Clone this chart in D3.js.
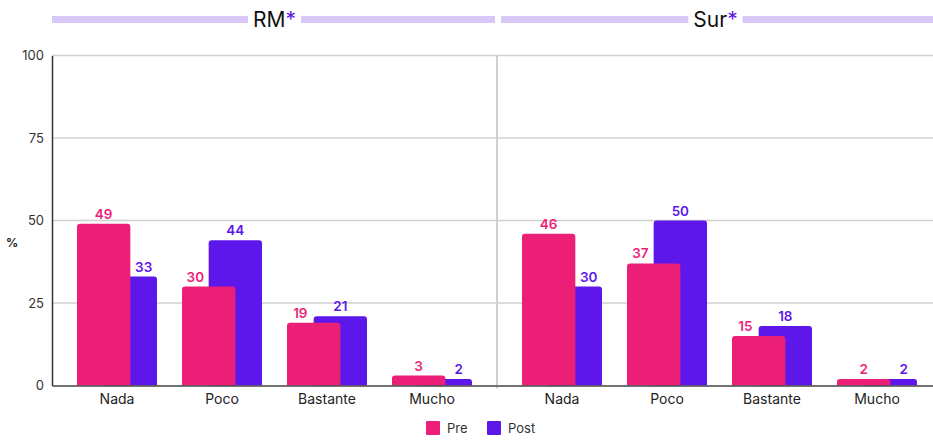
<!DOCTYPE html>
<html><head><meta charset="utf-8">
<script src="https://cdn.jsdelivr.net/npm/d3@7"></script>
<style>body{margin:0;background:#fff}svg{display:block}text{font-family:Inter,"Noto Sans",sans-serif}</style>
</head><body><svg id="c" width="933" height="443"></svg>
<script>
const panels = ["RM", "Sur"];
const categories = ["Nada", "Poco", "Bastante", "Mucho"];
const preRM = [49, 30, 19, 3];
const postRM = [33, 44, 21, 2];
const preSur = [46, 37, 15, 2];
const postSur = [30, 50, 18, 2];
const yTicks = [0, 25, 50, 75, 100];
const seriesNames = ["Pre", "Post"];
const colors = {Pre: "#EC1F77", Post: "#5E17EB"};

const data = {RM: {Pre: preRM, Post: postRM}, Sur: {Pre: preSur, Post: postSur}};
const svg = d3.select("#c");
const left = 52, panelW = 445;
const y = d3.scaleLinear().domain([0, 100]).range([385.5, 55.5]);
const px = d3.scaleBand().domain(panels).range([left, left + 2 * panelW]);

// gridlines
svg.append("g").selectAll("line").data(yTicks.filter(d => d > 0)).join("line")
  .attr("x1", left).attr("x2", left + 2 * panelW)
  .attr("y1", d => y(d)).attr("y2", d => y(d))
  .attr("stroke", "#d0d0d0").attr("stroke-width", 1.5);

// y axis
const yAxis = d3.axisLeft(y).tickValues(yTicks).tickSize(0).tickPadding(8);
const ya = svg.append("g").attr("transform", `translate(${left},0)`).call(yAxis);
ya.select(".domain").attr("stroke", "#333").attr("stroke-width", 1.5);
ya.selectAll("text").attr("font-size", 13).attr("fill", "#333");
svg.append("text").attr("x", 12).attr("y", 247).attr("text-anchor", "middle")
  .attr("font-size", 12).attr("font-weight", 700).attr("fill", "#222").text("%");

// divider
svg.append("line").attr("x1", px("Sur")).attr("x2", px("Sur"))
  .attr("y1", y(100)).attr("y2", y(0) + 3).attr("stroke", "#d0d0d0").attr("stroke-width", 2);

function roundTop(x, yt, w, h, r) {
  r = Math.min(r, h, w / 2);
  return `M${x},${yt + h}V${yt + r}Q${x},${yt} ${x + r},${yt}H${x + w - r}Q${x + w},${yt} ${x + w},${yt + r}V${yt + h}Z`;
}

const headerG = svg.append("g");

panels.forEach(p => {
  const x0 = px(p);
  const xb = d3.scaleBand().domain(categories).range([x0, x0 + panelW]).padding(25 / 105);
  const bw = xb.bandwidth();
  const w = bw * 2 / 3;
  const barsG = svg.append("g");
  const labG = svg.append("g");
  // Post first (behind), then Pre on top
  ["Post", "Pre"].forEach(s => {
    const off = s === "Pre" ? 0 : bw / 3;
    barsG.append("g").selectAll("path").data(data[p][s]).join("path")
      .attr("d", (d, i) => roundTop(xb(categories[i]) + off, y(d), w, y(0) - y(d), 3))
      .attr("fill", colors[s]);
    labG.append("g").selectAll("text").data(data[p][s]).join("text")
      .attr("x", (d, i) => {
        const pre = data[p].Pre[i], post = data[p].Post[i];
        const taller = s === "Pre" ? pre >= post : post > pre;
        const bx = xb(categories[i]);
        if (taller) return bx + off + w / 2;
        return s === "Pre" ? bx + bw / 6 : bx + bw * 5 / 6;
      })
      .attr("y", d => y(d) - 5)
      .attr("text-anchor", "middle").attr("font-size", 13.5).attr("font-weight", 600)
      .attr("fill", colors[s]).text(d => d);
  });
  // x axis
  const xa = svg.append("g").attr("transform", `translate(0,${y(0)})`)
    .call(d3.axisBottom(xb).tickSize(0).tickPadding(9));
  xa.select(".domain").attr("stroke", "#444").attr("stroke-width", 1.5);
  xa.selectAll("text").attr("font-size", 14).attr("fill", "#222");

  // header
  const hx = p === "RM" ? x0 : x0 + 4;
  const hw = p === "RM" ? panelW - 2 : panelW - 4;
  headerG.append("rect").attr("x", hx).attr("y", 16).attr("width", hw).attr("height", 7).attr("fill", "#D8C8F8");
  const tx = x0 + panelW / 2 - (p === "RM" ? 0 : 4);
  const bg = headerG.append("rect").attr("fill", "#fff");
  const t = headerG.append("text").attr("x", tx).attr("y", 27).attr("text-anchor", "middle")
    .attr("font-size", 21).attr("fill", "#111");
  t.append("tspan").text(p);
  t.append("tspan").attr("fill", "#5E17EB").text("*");
  const bb = t.node().getBBox();
  bg.attr("x", bb.x - 5).attr("y", 14).attr("width", bb.width + 10).attr("height", 11);
});

// legend
const lg = svg.append("g");
const lx = [426, 487];
seriesNames.forEach((s, i) => {
  lg.append("rect").attr("x", lx[i]).attr("y", 421).attr("width", 14).attr("height", 14).attr("rx", 1).attr("fill", colors[s]);
  lg.append("text").attr("x", lx[i] + 21).attr("y", 433).attr("font-size", 13).attr("fill", "#333").text(s);
});
</script></body></html>
